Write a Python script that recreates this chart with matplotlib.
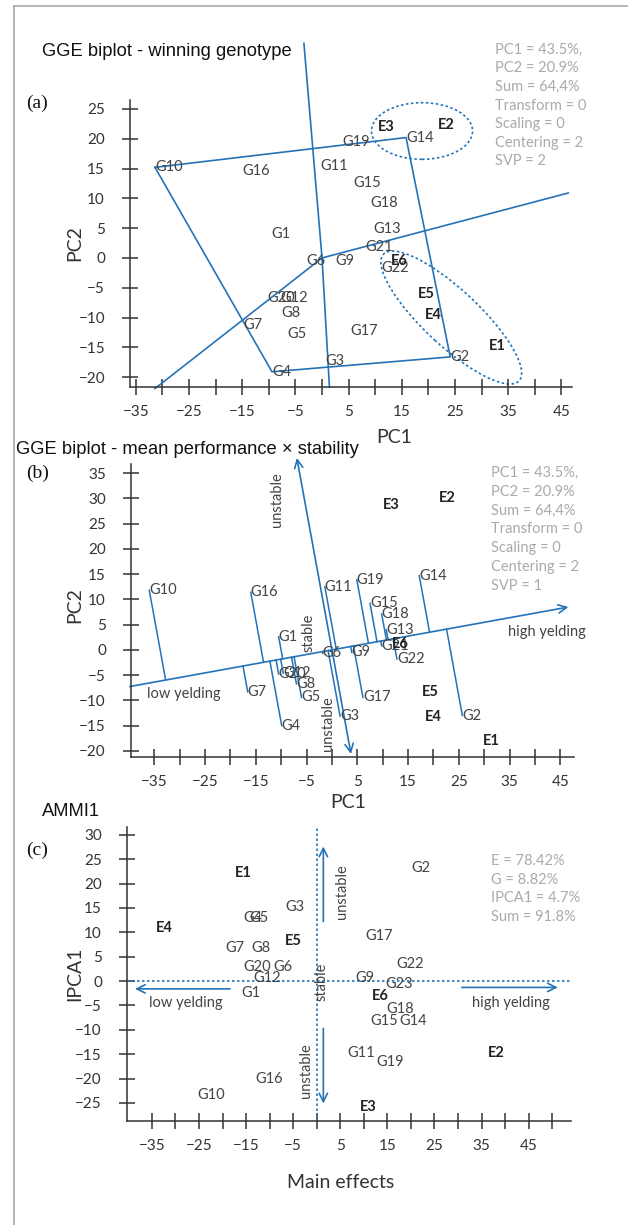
import numpy as np
import matplotlib
matplotlib.use("Agg")
import matplotlib.pyplot as plt
from matplotlib.patches import Ellipse
from matplotlib.lines import Line2D

# dados
# (a) GGE biplot - winning genotype
a_nomes = ['G1', 'G2', 'G3', 'G4', 'G5', 'G6', 'G7', 'G8', 'G9', 'G10', 'G11', 'G12',
           'G13', 'G14', 'G15', 'G16', 'G17', 'G18', 'G19', 'G20', 'G21', 'G22']
a_x = [-9.6, 24.1, 0.6, -9.4, -6.6, -2.9, -14.8, -7.7, 2.6, -31.4, -0.4, -7.9,
       9.6, 15.8, 5.9, -14.9, 5.4, 9.0, 3.9, -10.2, 8.1, 11.2]
a_y = [4.0, -16.6, -17.3, -19.1, -12.8, -0.5, -11.3, -9.3, -0.5, 15.2, 15.5, -6.7,
       4.9, 20.2, 12.5, 14.6, -12.3, 9.3, 19.4, -6.7, 1.9, -1.7]
a_env = ['E1', 'E2', 'E3', 'E4', 'E5', 'E6']
a_env_x = [31.4, 21.8, 10.5, 19.4, 18.0, 12.9]
a_env_y = [-14.7, 22.3, 21.9, -9.6, -6.1, -0.5]
a_poligono = ['G10', 'G14', 'G2', 'G4']
a_raio_x = [-3.4, 1.4, 46.3, -31.4]
a_raio_y = [36.0, -21.7, 10.9, -21.9]
a_elipse_cx = [18.8, 24.3]
a_elipse_cy = [21.3, -10.0]
a_elipse_w = [19.0, 33.2]
a_elipse_h = [9.5, 9.8]
a_elipse_ang = [0, -39.2]
a_info = ['PC1 = 43.5%,', 'PC2 = 20.9%', 'Sum = 64,4%', 'Transform = 0',
          'Scaling = 0', 'Centering = 2', 'SVP = 2']

# (b) mean performance x stability
b_nomes = ['G1', 'G2', 'G3', 'G4', 'G5', 'G6', 'G7', 'G8', 'G9', 'G10', 'G11', 'G12',
           'G13', 'G14', 'G15', 'G16', 'G17', 'G18', 'G19', 'G20', 'G21', 'G22']
b_x = [-10.5, 25.7, 1.6, -9.9, -6.0, -1.8, -16.6, -7.0, 3.9, -36.0, -1.4, -9.6,
       10.7, 17.2, 7.5, -16.0, 6.1, 9.8, 4.9, -10.5, 9.8, 12.8]
b_y = [2.6, -13.0, -13.1, -15.0, -9.4, -0.7, -8.3, -6.7, -0.5, 11.8, 12.5, -4.6,
       4.0, 14.7, 9.2, 11.4, -9.4, 7.1, 13.9, -4.8, 0.8, -1.8]
b_env = ['E1', 'E2', 'E3', 'E4', 'E5', 'E6']
b_env_x = [29.8, 21.0, 10.1, 18.3, 17.7, 11.8]
b_env_y = [-18.0, 30.1, 28.7, -13.2, -8.3, 1.1]
b_atc_k = 0.182
b_atc_x = [-39.8, 46.6]
b_ord_y = [38.0, -20.6]
b_info = ['PC1 = 43.5%,', 'PC2 = 20.9%', 'Sum = 64,4%', 'Transform = 0',
          'Scaling = 0', 'Centering = 2', 'SVP = 1']

# (c) AMMI1
c_nomes = ['G1', 'G2', 'G3', 'G4', 'G5', 'G6', 'G7', 'G8', 'G9', 'G10', 'G11', 'G12',
           'G14', 'G15', 'G16', 'G17', 'G18', 'G19', 'G20', 'G22', 'G23']
c_x = [-16.1, 20.0, -6.6, -15.6, -14.3, -9.2, -19.5, -13.9, 8.3, -25.3, 6.5, -13.5,
       17.5, 11.3, -13.1, 10.3, 14.7, 12.6, -15.6, 17.0, 14.5]
c_y = [-2.5, 23.1, 15.1, 13.0, 13.0, 2.9, 6.7, 6.7, 0.6, -23.3, -14.7, 0.7,
       -8.2, -8.2, -20.0, 9.3, -5.7, -16.7, 2.9, 3.4, -0.5]
c_env = ['E1', 'E2', 'E3', 'E4', 'E5', 'E6']
c_env_x = [-17.3, 36.3, 9.2, -34.1, -6.7, 11.7]
c_env_y = [22.2, -14.8, -25.9, 10.9, 8.3, -3.1]
c_info = ['E = 78.42%', 'G = 8.82%', 'IPCA1 = 4.7%', 'Sum = 91.8%']

W, H = 628, 1225
AZUL = '#2473b8'
CINZA_TXT = '#aaaaaa'
EIXO = '#333333'
FONTE = ['Lato', 'DejaVu Sans']

plt.rcParams['font.family'] = FONTE
fig = plt.figure(figsize=(W / 100, H / 100), dpi=100)


def fx(px):
    return px / W


def fy(py):
    return 1 - py / H


def criar_eixo(esq, dir_, topo, base, xlim, ylim, xt, xl, yt):
    ax = fig.add_axes([fx(esq), fy(base), fx(dir_ - esq), (base - topo) / H])
    ax.set_xlim(*xlim)
    ax.set_ylim(*ylim)
    for s in ['top', 'right']:
        ax.spines[s].set_visible(False)
    for s in ['left', 'bottom']:
        ax.spines[s].set_color(EIXO)
        ax.spines[s].set_linewidth(1.1)
    ax.set_xticks(xt)
    ax.set_xticklabels([f'{v:d}'.replace('-', '\u2212') if v in xl else '' for v in xt])
    ax.set_yticks(yt)
    ax.set_yticklabels([f'{v:d}'.replace('-', '\u2212') for v in yt])
    ax.tick_params(direction='inout', length=12, width=1.1, color=EIXO,
                   labelsize=11, labelcolor='#333333')
    ax.tick_params(axis='y', pad=12)
    ax.tick_params(axis='x', pad=7)
    ax.patch.set_alpha(0)
    return ax


def rotulos(ax, nomes, xs, ys, env, ex, ey):
    for n, x, y in zip(nomes, xs, ys):
        ax.text(x, y, n, ha='left', va='center', fontsize=10.5, color='#444444')
    for n, x, y in zip(env, ex, ey):
        ax.text(x, y, n, ha='left', va='center', fontsize=10.5, color='#222222',
                fontweight='bold')


def seta(ax, x0, y0, x1, y1, ls='-'):
    ax.annotate('', xy=(x1, y1), xytext=(x0, y0), annotation_clip=False,
                arrowprops=dict(arrowstyle='->,head_length=0.6,head_width=0.3',
                                color=AZUL, lw=1.2, shrinkA=0, shrinkB=0))


def texto_fig(px, py, s, **kw):
    fig.text(fx(px), fy(py), s, **kw)


# moldura
fig.add_artist(Line2D([fx(13.5), 1], [fy(6), fy(6)], color='#aaaaaa', lw=1.2))
fig.add_artist(Line2D([fx(13.5), fx(13.5)], [fy(6), 0], color='#aaaaaa', lw=1.2))

xt = list(range(-35, 50, 5))
xl = list(range(-35, 50, 10))
TITULO = dict(ha='left', va='center', fontsize=13.2,
              family=['Liberation Sans', 'DejaVu Sans'], color='#111111')
LETRA = dict(ha='left', va='center', fontsize=14,
             family=['Liberation Serif', 'DejaVu Serif'], color='#111111')

# ---------- (a)
ax1 = criar_eixo(130, 572, 100, 387, (-36.1, 47.0), (-21.65, 26.5),
                 xt, xl, list(range(-20, 30, 5)))
pos = dict(zip(a_nomes, zip(a_x, a_y)))
px_ = [pos[g][0] for g in a_poligono] + [pos[a_poligono[0]][0]]
py_ = [pos[g][1] for g in a_poligono] + [pos[a_poligono[0]][1]]
ax1.plot(px_, py_, color=AZUL, lw=1.2, clip_on=False)
for rx, ry in zip(a_raio_x, a_raio_y):
    ax1.plot([0, rx], [0, ry], color=AZUL, lw=1.2, clip_on=False)
for cx, cy, w, h, ang in zip(a_elipse_cx, a_elipse_cy, a_elipse_w, a_elipse_h, a_elipse_ang):
    ax1.add_patch(Ellipse((cx, cy), w, h, angle=ang, fill=False, ec=AZUL, lw=1.2,
                          ls=(0, (1.5, 1.5)), clip_on=False))
rotulos(ax1, a_nomes, a_x, a_y, a_env, a_env_x, a_env_y)
for i, s in enumerate(a_info):
    texto_fig(495, 50 + i * 18.5, s, ha='left', va='center', fontsize=10.5, color=CINZA_TXT)
texto_fig(41.7, 51, 'GGE biplot - winning genotype', **TITULO)
texto_fig(26, 103, '(a)', **LETRA)
texto_fig(394, 437, 'PC1', ha='center', va='center', fontsize=14, color='#333333')
texto_fig(75, 243, 'PC2', ha='center', va='center', fontsize=14, color='#333333',
          rotation=90)

# ---------- (b)
ax2 = criar_eixo(131, 574, 464, 757, (-39.6, 47.7), (-21.2, 36.8),
                 xt, xl, list(range(-20, 40, 5)))
k = b_atc_k
ax2.plot(b_atc_x[:1] + [0], [b_atc_x[0] * k, 0], color=AZUL, lw=1.2, clip_on=False)
seta(ax2, 0, 0, b_atc_x[1], b_atc_x[1] * k)
seta(ax2, 0, 0, -k * b_ord_y[0], b_ord_y[0])
seta(ax2, 0, 0, -k * b_ord_y[1], b_ord_y[1])
for x, y in zip(b_x, b_y):
    t = (x + k * y) / (1 + k * k)
    ax2.plot([x, t], [y, k * t], color=AZUL, lw=1.1, clip_on=False)
rotulos(ax2, b_nomes, b_x, b_y, b_env, b_env_x, b_env_y)
ax2.text(-10.9, 29.8, 'unstable', rotation=90, ha='center', va='center', fontsize=10.5, color='#444444')
ax2.text(-4.7, 3.4, 'stable', rotation=90, ha='center', va='center', fontsize=10.5, color='#444444')
ax2.text(-0.8, -14.5, 'unstable', rotation=90, ha='center', va='center', fontsize=10.5, color='#444444')
ax2.text(-36.5, -8.7, 'low yelding', ha='left', va='center', fontsize=10.5, color='#444444')
ax2.text(34.7, 3.6, 'high yelding', ha='left', va='center', fontsize=10.5, color='#444444')
for i, s in enumerate(b_info):
    texto_fig(491, 473 + i * 18.8, s, ha='left', va='center', fontsize=10.5, color=CINZA_TXT)
texto_fig(16, 450, 'GGE biplot - mean performance \u00d7 stability', **TITULO)
texto_fig(26, 473, '(b)', **LETRA)
texto_fig(348, 802, 'PC1', ha='center', va='center', fontsize=14, color='#333333')
texto_fig(75, 605, 'PC2', ha='center', va='center', fontsize=14, color='#333333',
          rotation=90)

# ---------- (c)
ax3 = criar_eixo(127, 571, 827, 1121, (-40.3, 54.0), (-28.7, 31.6),
                 list(range(-35, 55, 5)), xl, list(range(-25, 35, 5)))
ax3.plot([0, 0], [-28.7, 31.6], color=AZUL, lw=1.2, ls=(0, (1.5, 1.5)))
ax3.plot([-40.3, 54.0], [0, 0], color=AZUL, lw=1.2, ls=(0, (1.5, 1.5)))
seta(ax3, 1.4, 12.2, 1.4, 27.6)
seta(ax3, 1.4, -9.7, 1.4, -25.1)
seta(ax3, -18.4, -1.6, -38.6, -1.6)
seta(ax3, 30.8, -1.3, 51.2, -1.3)
rotulos(ax3, c_nomes, c_x, c_y, c_env, c_env_x, c_env_y)
ax3.text(5.3, 18.3, 'unstable', rotation=90, ha='center', va='center', fontsize=10.5, color='#444444')
ax3.text(1.1, -0.1, 'stable', rotation=90, ha='center', va='center', fontsize=10.5, color='#444444')
ax3.text(-2.3, -18.3, 'unstable', rotation=90, ha='center', va='center', fontsize=10.5, color='#444444')
ax3.text(-35.7, -4.6, 'low yelding', ha='left', va='center', fontsize=10.5, color='#444444')
ax3.text(32.9, -4.6, 'high yelding', ha='left', va='center', fontsize=10.5, color='#444444')
for i, s in enumerate(c_info):
    texto_fig(491, 861 + i * 18.6, s, ha='left', va='center', fontsize=10.5, color=CINZA_TXT)
texto_fig(42, 812, 'AMMI1', **TITULO)
texto_fig(26, 850, '(c)', **LETRA)
texto_fig(341, 1182, 'Main effects', ha='center', va='center', fontsize=14, color='#333333')
texto_fig(75, 974, 'IPCA1', ha='center', va='center', fontsize=14, color='#333333',
          rotation=90)

fig.savefig('out.png', dpi=100)
